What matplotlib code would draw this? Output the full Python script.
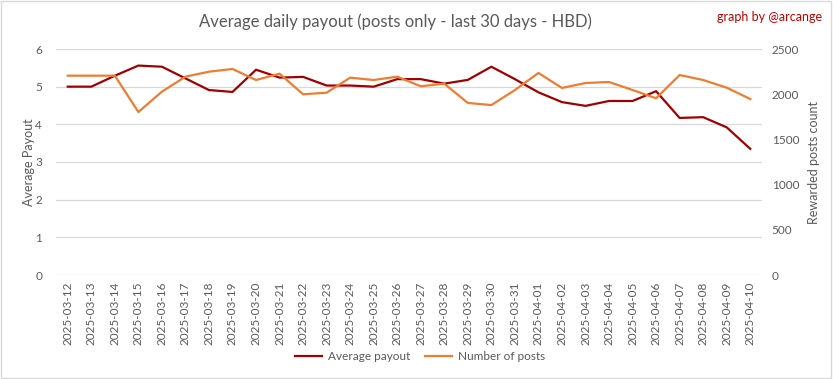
import matplotlib
matplotlib.use("Agg")
import matplotlib.pyplot as plt
from matplotlib.patches import Rectangle

dates = ["2025-03-12", "2025-03-13", "2025-03-14", "2025-03-15", "2025-03-16", "2025-03-17",
         "2025-03-18", "2025-03-19", "2025-03-20", "2025-03-21", "2025-03-22", "2025-03-23",
         "2025-03-24", "2025-03-25", "2025-03-26", "2025-03-27", "2025-03-28", "2025-03-29",
         "2025-03-30", "2025-03-31", "2025-04-01", "2025-04-02", "2025-04-03", "2025-04-04",
         "2025-04-05", "2025-04-06", "2025-04-07", "2025-04-08", "2025-04-09", "2025-04-10"]
avg_payout = [5.00, 5.00, 5.29, 5.56, 5.53, 5.22, 4.91, 4.86, 5.45, 5.24, 5.26, 5.03,
              5.03, 5.00, 5.20, 5.20, 5.08, 5.18, 5.53, 5.20, 4.85, 4.59, 4.49, 4.62,
              4.62, 4.88, 4.17, 4.19, 3.92, 3.35]
num_posts = [2205, 2205, 2205, 1803, 2028, 2194, 2249, 2279, 2157, 2227, 1999, 2017,
             2183, 2157, 2194, 2088, 2116, 1903, 1880, 2046, 2235, 2069, 2124, 2135,
             2046, 1955, 2212, 2157, 2072, 1947]

plt.rcParams['font.family'] = ['Lato', 'DejaVu Sans']
grey = "#595959"
red = "#A00000"
orange = "#ED7D31"

fig = plt.figure(figsize=(8.33, 3.79), dpi=100)
ax = fig.add_axes([56/833, 1-275/379, (762-56)/833, (275-49)/379])
ax2 = ax.twinx()

x = list(range(len(dates)))
l1, = ax.plot(x, avg_payout, color=red, lw=1.6, label="Average payout", zorder=3)
l2, = ax2.plot(x, num_posts, color=orange, lw=1.6, label="Number of posts", zorder=3)

ax.set_xlim(-0.5, len(dates)-0.5)
ax.set_ylim(0, 6)
ax2.set_ylim(0, 2500)
ax.set_yticks(range(0, 7))
ax2.set_yticks(range(0, 2501, 500))
ax.set_xticks(x)
ax.set_xticklabels(dates, rotation=90, fontsize=8, color=grey)
ax.grid(axis='y', color="#D9D9D9", lw=0.9)
ax.set_axisbelow(True)
for a in (ax, ax2):
    for s in a.spines.values():
        s.set_visible(False)
    a.tick_params(length=0, labelsize=8.5, colors=grey)
ax.tick_params(axis='y', pad=10)
ax2.tick_params(axis='y', pad=7)
ax.tick_params(axis='x', pad=5)
ax.set_ylabel("Average Payout", color=grey, fontsize=9, labelpad=0)
ax2.set_ylabel("Rewarded posts count", color=grey, fontsize=9, labelpad=6)

fig.text(395/833, 1-22/379, "Average daily payout (posts only - last 30 days - HBD)",
         ha='center', va='center', fontsize=12, color=grey)
fig.text(822/833, 1-17/379, "graph by @arcange", ha='right', va='center',
         fontsize=9, color="#C00000")
fig.legend([l1, l2], ["Average payout", "Number of posts"], loc='center',
           bbox_to_anchor=(420/833, 1-357/379), ncol=2, frameon=False,
           fontsize=8.5, labelcolor=grey, handlelength=2.3, columnspacing=1.2,
           handletextpad=0.5)
fig.patches.append(Rectangle((0.001, 0.002), 0.997, 0.995, transform=fig.transFigure,
                             fill=False, edgecolor="#D9D9D9", lw=1))
fig.savefig("out.png", dpi=100)
